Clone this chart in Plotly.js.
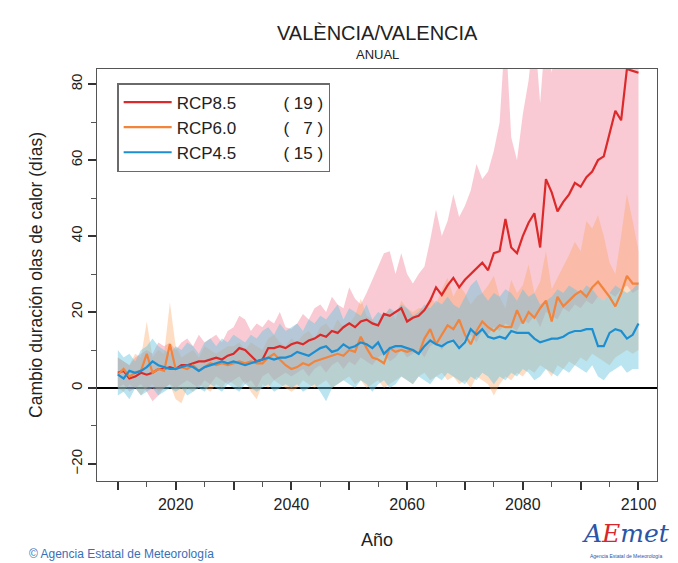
<!DOCTYPE html>
<html>
<head>
<meta charset="utf-8">
<script src="https://cdn.plot.ly/plotly-3.0.1.min.js"></script>
<style>
html,body{margin:0;padding:0;background:#fff;}
#chart{width:678px;height:563px;}
</style>
</head>
<body>
<div id="chart"></div>
<script>
// ---------- DATA ----------
var startYear = 2010, endYear = 2100;
var years = [];
for (var y = startYear; y <= endYear; y++) years.push(y);

var scenarioNames = ["RCP8.5", "RCP6.0", "RCP4.5"];
var modelCounts = ["19", "7", "15"];

var rcp85Mean = [4,4.5,2.5,3,4,3.5,4,5,5,5.5,
  5,6,6,6.5,7,7,7.5,8,7.5,8.5,
  9,10.5,10,8.5,7,7.5,10.5,10.5,11,10.5,
  11.5,12,11.5,12.5,13,14,13.5,15,14.5,16,
  17,16,17.5,18,17,16.5,19.5,19,20,21,
  17.5,18.5,19,20.5,23,26.5,24.5,27,29,26.5,
  28.5,30,31.5,33,31,35.5,36,44.5,37,35.5,
  40,43.5,46,37,55,51.5,46.5,49,51,54,
  53,55.5,57,60,61,67,73,70.5,84,83.5,83];
var rcp85Upper = [8,7,6,8,9,10,9,12,11,12,
  10,12,13,11,14,12,13,14,12,15,
  16,19,18,15,17,16,18,17,20,16,
  15.5,17,19.5,18,21,22,20,24,22,21,
  26.5,23.5,22,25,28.5,32,35.5,36,30,35.5,
  30,27.5,30,32,39,47,40,44,51,45,
  48,52,59,55,57,62.5,70,95,66,60,
  72,81,95,75,95,83,95,95,95,95,
  95,95,95,95,95,95,95,95,95,95,95];
var rcp85Lower = [0,1,-1,0,1,-1,-3.5,-2,0,1,
  0,1,2,1,0,2,1,3,2,1,
  2,3,1,2,0,3,4,2,3,4,
  3,4,5,3,5,6,4,6,7,5,
  7,6,8,7,6,8,9,7,8,10,
  8,9,10,8,11,12,10,12,13,11,
  13,14,12,15,14,16,15,17,16,15,
  18,17,19,16,20,19,18,21,20,22,
  21,23,22,24,23,25,24,26,27,25,26];

var rcp60Mean = [3.5,5,3,4,4.5,9,4,5,4.5,11.5,
  5,5.5,5,6,4.5,5.5,6.5,6,6.5,6,
  6.5,7,6.5,7,6.5,6.5,8,9,7.5,6,
  5,5.5,6.5,6,7,7.5,8,8.5,9,8.5,
  10,9.5,13.5,10.5,8,7.5,6.5,10.5,9.5,10,
  9.5,10,9,13,15.5,11.5,14,16.5,15.5,18,
  14,11.5,15,17.5,16,15,16.5,16,16,20.5,
  17,20,18.5,21,23,17.5,24,21.5,23,24.5,
  25.5,24,26.5,28,26,24,21.5,25,29.5,27.5,27.5];
var rcp60Upper = [8,7,6,9,8,17.5,8,10,9,22.5,
  11,8,9,10,8,11,10,9,10,11,
  11,12,10,12,11,10,13,14,12,11,
  13,12,14,15,13,16,17,15,18,16,
  17,19,23.5,19,18,16,19,21,18,23,
  21,20,21,21,24,22,26,29,24,27,
  25,22,24,25,27,29.5,24,21,28.5,25,
  27,32.5,25,28,36,26,29,32,35,38.5,
  36,44,42,45.5,40,33,30,40,51,44,36];
var rcp60Lower = [0,-1,1,0,-2,0,1,-1,0,1,
  -3,-4,0,-1,1,0,-1,1,0,2,
  1,0,2,-1,-3,1,0,2,1,0,
  -1,0,2,1,0,1,2,0,1,2,
  3,1,2,0,1,2,0,1,2,3,
  2,1,3,4,2,3,4,2,3,1,
  2,0,3,2,1,-2,1,3,2,4,
  3,5,4,6,5,3,6,5,7,6,
  8,7,9,8,7,6,8,9,10,9,10];

var rcp45Mean = [3.5,2.5,4.5,4,4.5,5.5,7,6,5.5,5,
  5,5.5,6,5.5,4.5,5.5,6,6.5,7,6.5,
  7,6.5,6,6.5,7,7.5,8,7.5,8,8,
  8.5,9.5,9,8.5,9.5,10.5,11,9.5,10,11.5,
  10.5,11,12,11.5,10.5,12,9,10.5,11,11,
  10.5,10,9,11,12.5,11.5,11,12,12.5,10.5,
  12,15.5,14,15.5,13.5,13,13.5,13,15,14.5,
  14.5,14.5,13,12,12.5,13,13,13.5,14.5,15,
  15,15.5,15.5,11,11,14.5,15.5,15,13,14,17];
var rcp45Upper = [10,8,9,7,10,11,13,11,10,9,
  11,10,12,11,9,12,13,11,13,12,
  14,13,12,14,13,15,16,14,17,15,
  16,17,15,18,17,19,18,20,22,18,
  21,20,19,22,18,20,19,21,20,22,
  21,19,20,22,21,23,22,24,22,21,
  24,27,28.5,25,23,25,24,26,25,23,
  26,24,25,22,23,24,26,25,27,26,
  25,27,26,24,23,25,27,26,25,26,28];
var rcp45Lower = [-2,-1,-3,0,-2,-1,0,-2,-1,0,
  -1,0,-2,-1,0,-1,1,0,-1,1,
  0,-1,1,0,-1,0,1,-1,0,1,
  0,1,-1,0,1,-1,-3.5,0,1,2,
  1,0,2,1,-1,1,2,0,1,3,
  2,1,3,2,1,3,2,4,3,2,
  1,3,2,4,3,1,3,2,4,3,
  5,4,2,3,5,4,3,5,4,6,
  5,4,6,3,2,4,5,6,4,5,5];

var xTickVals = [2010,2020,2030,2040,2050,2060,2070,2080,2090,2100];
var xTickText = ["","2020","","2040","","2060","","2080","","2100"];
var yTickVals = [-20,0,20,40,60,80];

// ---------- STYLE ----------
var lineColors = ["#dc2a2a", "#f2843c", "#1b8fd2"];
var fillColors = ["rgba(236,90,118,0.32)", "rgba(252,160,95,0.36)", "rgba(100,195,222,0.45)"];
var FONT = "Liberation Sans, Arial, Helvetica, sans-serif";

var bands = [[rcp85Lower, rcp85Upper], [rcp60Lower, rcp60Upper], [rcp45Lower, rcp45Upper]];
var means = [rcp85Mean, rcp60Mean, rcp45Mean];

var traces = [];
bands.forEach(function (b, i) {
  traces.push({x: years, y: b[0], type: "scatter", mode: "lines", line: {width: 0, color: fillColors[i]},
    showlegend: false, hoverinfo: "skip"});
  traces.push({x: years, y: b[1], type: "scatter", mode: "lines", line: {width: 0, color: fillColors[i]},
    fill: "tonexty", fillcolor: fillColors[i], showlegend: false, hoverinfo: "skip"});
});
var NB = "\u00a0";
function pad(n) { return new Array(n + 1).join(NB); }
means.forEach(function (m, i) {
  var cnt = modelCounts[i].length === 1 ? pad(3) + modelCounts[i] : pad(1) + modelCounts[i];
  traces.push({x: years, y: m, type: "scatter", mode: "lines",
    line: {width: 2.2, color: lineColors[i]},
    name: scenarioNames[i] + pad(10) + "(" + cnt + pad(1) + ")"});
});

var layout = {
  width: 678, height: 563,
  margin: {l: 97, r: 21, t: 69, b: 82},
  paper_bgcolor: "#ffffff", plot_bgcolor: "#ffffff",
  font: {family: FONT, color: "#222", size: 14},
  showlegend: true,
  legend: {x: 0.036, y: 0.966, xanchor: "left", yanchor: "top",
    bgcolor: "rgba(255,255,255,1)", bordercolor: "#6a6a6a", borderwidth: 1.5,
    font: {family: FONT, size: 17, color: "#222"}, itemwidth: 48, traceorder: "normal"},
  xaxis: {range: [2006.4, 2103.2], showgrid: false, zeroline: false,
    showline: true, mirror: true, linecolor: "#555", linewidth: 1.3,
    ticks: "outside", ticklen: 8, tickwidth: 2, tickcolor: "#333",
    tickmode: "array", tickvals: xTickVals, ticktext: xTickText,
    minor: {dtick: 5, ticks: "outside", ticklen: 5, tickwidth: 1, tickcolor: "#555", showgrid: false},
    tickfont: {size: 16, color: "#222"},
    title: {text: "Año", font: {size: 18, color: "#222"}, standoff: 22}},
  yaxis: {range: [-24.5, 84], showgrid: false,
    zeroline: true, zerolinecolor: "#000", zerolinewidth: 1.6,
    showline: true, mirror: true, linecolor: "#555", linewidth: 1.3,
    ticks: "outside", ticklen: 8, tickwidth: 1.5, tickcolor: "#333",
    tickmode: "array", tickvals: yTickVals, tickangle: -90,
    minor: {dtick: 10, ticks: "outside", ticklen: 5, tickwidth: 1, tickcolor: "#555", showgrid: false},
    tickfont: {size: 15, color: "#222"},
    title: {text: "Cambio duración olas de calor (días)", font: {size: 17.5, color: "#222"}, standoff: 20}},
  annotations: [
    {text: "VALÈNCIA/VALENCIA", xref: "paper", yref: "paper", x: 0.5, y: 1.0874,
      xanchor: "center", yanchor: "middle", showarrow: false, font: {size: 20, color: "#222"}},
    {text: "ANUAL", xref: "paper", yref: "paper", x: 0.5, y: 1.034,
      xanchor: "center", yanchor: "middle", showarrow: false, font: {size: 13, color: "#222"}},
    {text: "© Agencia Estatal de Meteorología", xref: "paper", yref: "paper", x: -0.125, y: -0.177,
      xanchor: "left", yanchor: "middle", showarrow: false, font: {size: 12, color: "#3a6fb8"}},
    {text: "<i><span style='color:#2a55a8'>A</span><span style='color:#d8262b'>E</span><span style='color:#2a55a8'>met</span></i>",
      xref: "paper", yref: "paper", x: 0.945, y: -0.128, xanchor: "center", yanchor: "middle",
      showarrow: false, font: {size: 25, color: "#2a55a8", family: "DejaVu Serif, serif"}},
    {text: "Agencia Estatal de Meteorología", xref: "paper", yref: "paper", x: 0.945, y: -0.183,
      xanchor: "center", yanchor: "middle", showarrow: false, font: {size: 5, color: "#2a55a8"}}
  ]
};

Plotly.newPlot("chart", traces, layout, {displayModeBar: false, staticPlot: true});
</script>
</body>
</html>
